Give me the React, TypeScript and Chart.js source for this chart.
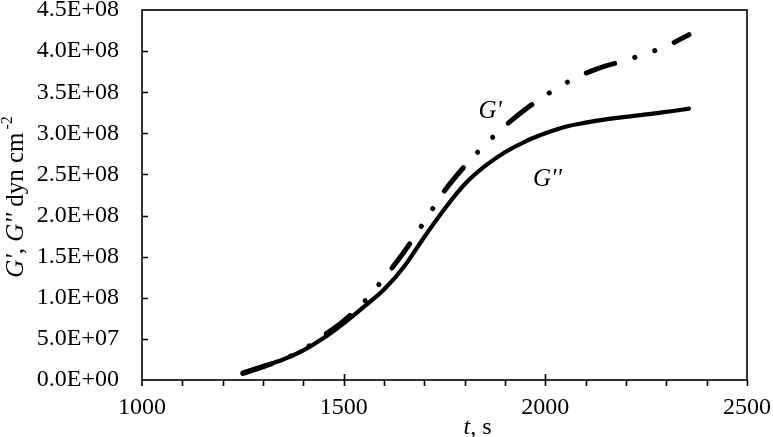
import { useEffect, useRef } from "react";
import { Chart, registerables } from "chart.js";

Chart.register(...registerables);

// Time axis, seconds
const TIME_S = [
  1250, 1300, 1350, 1400, 1450, 1500, 1550, 1600, 1650, 1700, 1750, 1800,
  1850, 1900, 1950, 2000, 2050, 2100, 2150, 2200, 2250, 2300, 2356,
];

// Storage modulus G', dyn cm^-2
const G_STORAGE = [
  0.8e7, 1.6e7, 2.5e7, 3.7e7, 5.4e7, 7.2e7, 9.5e7, 1.24e8, 1.56e8, 1.925e8,
  2.3e8, 2.6e8, 2.86e8, 3.09e8, 3.29e8, 3.46e8, 3.61e8, 3.73e8, 3.82e8,
  3.89e8, 3.97e8, 4.06e8, 4.2e8,
];

// Loss modulus G'', dyn cm^-2
const G_LOSS = [
  0.9e7, 1.7e7, 2.5e7, 3.6e7, 5.1e7, 6.9e7, 8.9e7, 1.1e8, 1.38e8, 1.74e8,
  2.08e8, 2.38e8, 2.6e8, 2.77e8, 2.9e8, 3.0e8, 3.08e8, 3.13e8, 3.17e8,
  3.2e8, 3.23e8, 3.26e8, 3.3e8,
];

const X_MIN = 1000;
const X_MAX = 2500;
const X_MAJOR = 500;
const X_MINOR = 100;
const Y_MIN = 0;
const Y_MAX = 4.5e8;
const Y_STEP = 5e7;

// Curve labels placed in data coordinates
const LABEL_STORAGE = { t: 1863, g: 3.28e8 };
const LABEL_LOSS = { t: 2005, g: 2.46e8 };

const FONT = "'Liberation Serif', 'Times New Roman', serif";

function sci(v: number): string {
  if (v === 0) return "0.0E+00";
  const e = Math.floor(Math.log10(Math.abs(v)) + 1e-9);
  const m = v / Math.pow(10, e);
  const sign = e < 0 ? "-" : "+";
  return `${m.toFixed(1)}E${sign}${String(Math.abs(e)).padStart(2, "0")}`;
}

type Piece = { text: string; italic?: boolean; sup?: boolean; gap?: number };

function drawRich(
  ctx: CanvasRenderingContext2D,
  pieces: Piece[],
  size: number,
  supSize: number
) {
  const fontFor = (p: Piece) =>
    `${p.italic ? "italic " : ""}${p.sup ? supSize : size}px ${FONT}`;
  let total = 0;
  for (const p of pieces) {
    ctx.font = fontFor(p);
    total += ctx.measureText(p.text).width + (p.gap || 0);
  }
  let x = -total / 2;
  for (const p of pieces) {
    ctx.font = fontFor(p);
    x += p.gap || 0;
    ctx.fillText(p.text, x, p.sup ? -size * 0.42 : 0);
    x += ctx.measureText(p.text).width;
  }
}

const framePlugin = {
  id: "frame",
  afterDraw(chart: any) {
    const { ctx, chartArea: a, scales } = chart;
    const xs = scales.x;
    const ys = scales.y;
    ctx.save();
    ctx.strokeStyle = "#000";
    ctx.lineWidth = 1.6;
    ctx.strokeRect(a.left, a.top, a.right - a.left, a.bottom - a.top);

    ctx.beginPath();
    // y ticks point into the plot
    for (let v = Y_MIN + Y_STEP; v < Y_MAX; v += Y_STEP) {
      const py = Math.round(ys.getPixelForValue(v)) + 0.5;
      ctx.moveTo(a.left, py);
      ctx.lineTo(a.left + 6, py);
    }
    // x ticks: minor outward, major across the axis
    for (let t = X_MIN + X_MINOR; t <= X_MAX; t += X_MINOR) {
      const px = Math.round(xs.getPixelForValue(t)) + 0.5;
      const major = t % X_MAJOR === 0;
      ctx.moveTo(px, major && t !== X_MAX ? a.bottom - 6 : a.bottom);
      ctx.lineTo(px, a.bottom + 6);
    }
    ctx.moveTo(a.left, a.bottom);
    ctx.lineTo(a.left, a.bottom + 6);
    ctx.stroke();

    ctx.fillStyle = "#000";
    ctx.textBaseline = "alphabetic";

    // curve labels
    ctx.font = `italic 25px ${FONT}`;
    ctx.textAlign = "center";
    ctx.fillText(
      "G'",
      xs.getPixelForValue(LABEL_STORAGE.t),
      ys.getPixelForValue(LABEL_STORAGE.g) + 8
    );
    ctx.fillText(
      "G''",
      xs.getPixelForValue(LABEL_LOSS.t),
      ys.getPixelForValue(LABEL_LOSS.g) + 8
    );
    ctx.textAlign = "left";

    // x axis title
    ctx.save();
    ctx.translate((a.left + a.right) / 2 + 33, 434);
    drawRich(ctx, [{ text: "t", italic: true }, { text: ", s" }], 24, 15);
    ctx.restore();

    // y axis title
    ctx.save();
    ctx.translate(22.5, (a.top + a.bottom) / 2 + 2);
    ctx.rotate(-Math.PI / 2);
    drawRich(
      ctx,
      [
        { text: "G'", italic: true },
        { text: ", " },
        { text: "G''", italic: true },
        { text: " dyn cm" },
        { text: "-2", sup: true, gap: 3 },
      ],
      25,
      16
    );
    ctx.restore();

    ctx.restore();
  },
};

export default function App() {
  const ref = useRef<HTMLCanvasElement | null>(null);

  useEffect(() => {
    if (!ref.current) return;
    const storage = TIME_S.map((t, i) => ({ x: t, y: G_STORAGE[i] }));
    const loss = TIME_S.map((t, i) => ({ x: t, y: G_LOSS[i] }));

    const chart = new Chart(ref.current, {
      type: "line",
      data: {
        datasets: [
          {
            label: "G''",
            data: loss,
            borderColor: "#000",
            borderWidth: 4.2,
            pointRadius: 0,
            fill: false,
            cubicInterpolationMode: "monotone",
            borderCapStyle: "round",
            borderJoinStyle: "round",
          },
          {
            label: "G'",
            data: storage,
            borderColor: "#000",
            borderWidth: 5,
            pointRadius: 0,
            fill: false,
            cubicInterpolationMode: "monotone",
            borderCapStyle: "round",
            borderJoinStyle: "round",
            borderDash: [30, 21, 0.1, 21, 0.1, 21],
          },
        ],
      },
      options: {
        responsive: false,
        animation: false,
        layout: { padding: { top: 10, right: 26, left: 0, bottom: 0 } },
        plugins: {
          legend: { display: false },
          tooltip: { enabled: false },
        },
        scales: {
          x: {
            type: "linear",
            min: X_MIN,
            max: X_MAX,
            grid: { display: false, drawTicks: false },
            border: { display: false },
            ticks: {
              stepSize: X_MAJOR,
              color: "#000",
              padding: 13,
              maxRotation: 0,
              font: { family: FONT, size: 24 },
              callback: (v: any) => String(v),
            },
            afterFit(scale: any) {
              scale.height = 57;
              scale.paddingLeft = 0;
              scale.paddingRight = 0;
            },
          },
          y: {
            type: "linear",
            min: Y_MIN,
            max: Y_MAX,
            grid: { display: false, drawTicks: false },
            border: { display: false },
            ticks: {
              stepSize: Y_STEP,
              color: "#000",
              padding: 23,
              font: { family: FONT, size: 24 },
              callback: (v: any) => sci(Number(v)),
            },
            afterFit(scale: any) {
              scale.width = 142;
              scale.paddingTop = 0;
              scale.paddingBottom = 0;
            },
          },
        },
      },
      plugins: [framePlugin],
    });

    return () => chart.destroy();
  }, []);

  return (
    <div style={{ position: "absolute", left: 0, top: 0, width: 773, height: 437, background: "#fff" }}>
      <canvas ref={ref} width={773} height={437} />
    </div>
  );
}
